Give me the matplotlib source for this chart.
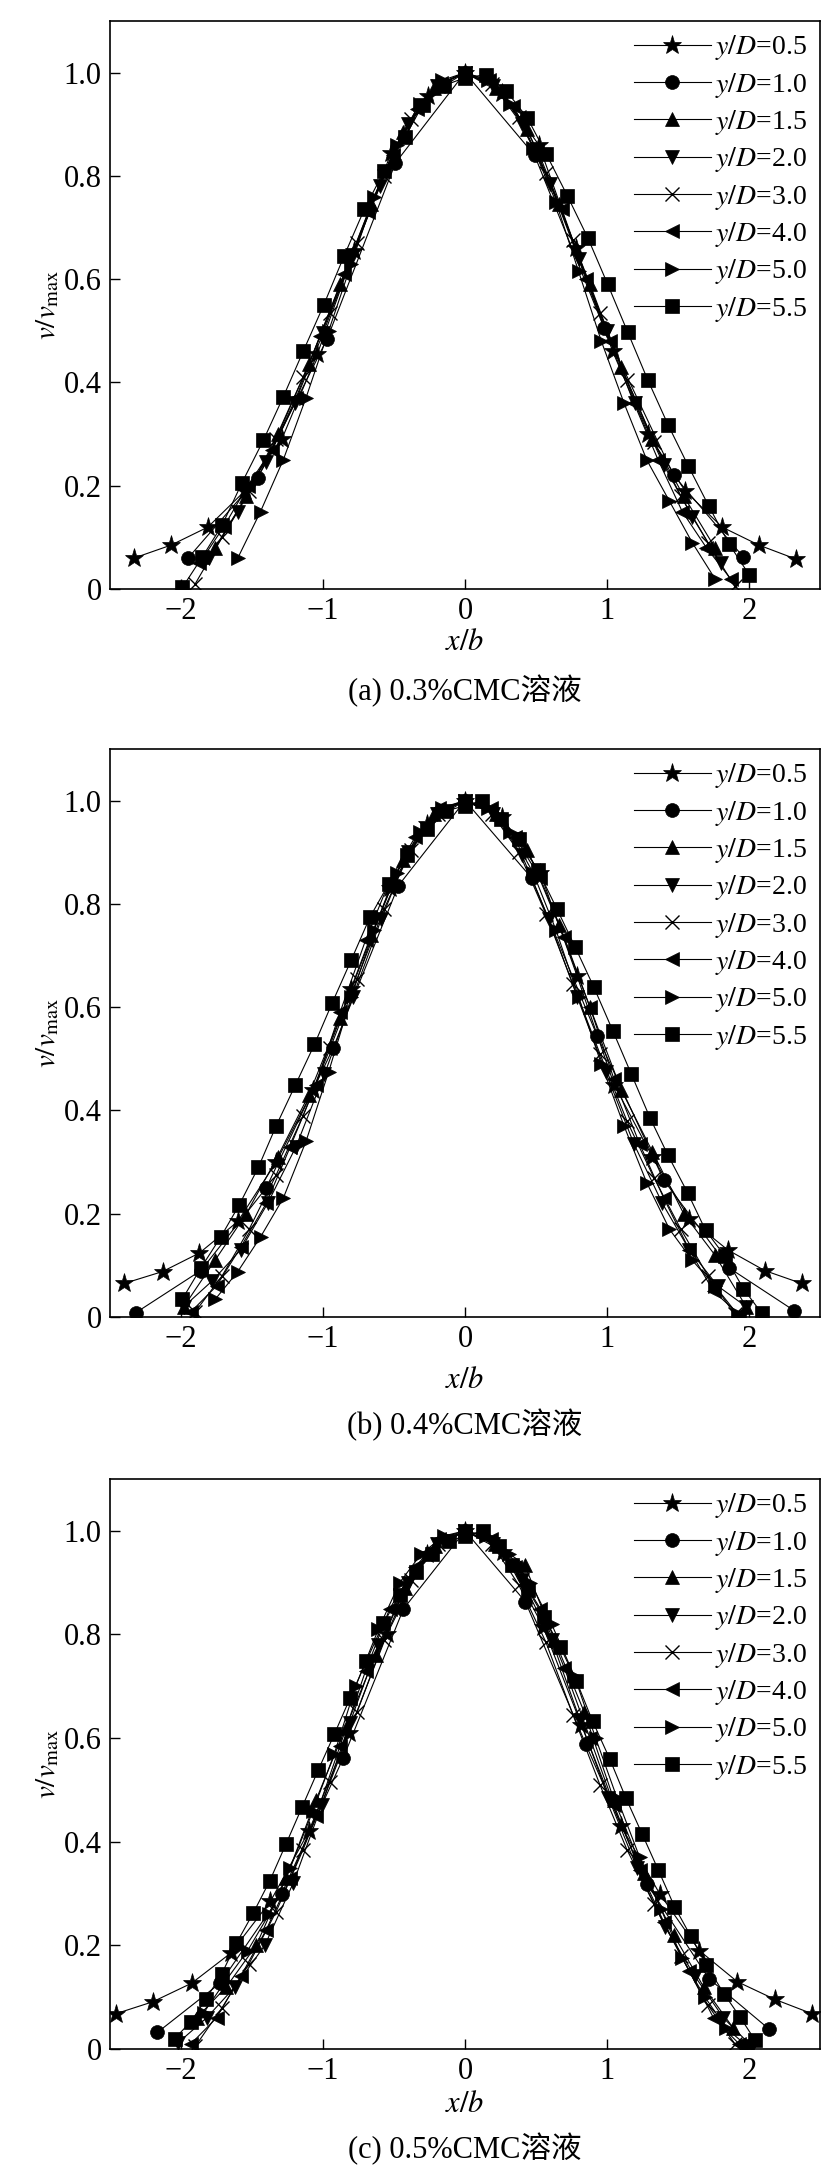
import matplotlib
matplotlib.use('Agg')
import matplotlib.pyplot as plt
from matplotlib.ticker import FixedLocator, FixedFormatter

plt.rcParams['font.family'] = ['Liberation Serif', 'Noto Sans CJK SC']
plt.rcParams['mathtext.fontset'] = 'stix'

labels = ['0.5', '1.0', '1.5', '2.0', '3.0', '4.0', '5.0', '5.5']
markers = ['*', 'o', '^', 'v', 'x', '<', '>', 's']
captions = ['(a) 0.3%CMC溶液', '(b) 0.4%CMC溶液', '(c) 0.5%CMC溶液']
y_ticks = [0, 0.2, 0.4, 0.6, 0.8, 1.0]
y_ticklabels = ['0', '0.2', '0.4', '0.6', '0.8', '1.0']

# (a) 0.3% CMC
a_x05 = [-2.33, -2.07, -1.81, -1.55, -1.29, -1.04, -0.78, -0.52, -0.26, 0, 0.26, 0.52, 0.78, 1.04, 1.29, 1.55, 1.81, 2.07, 2.33]
a_y05 = [0.06, 0.085, 0.12, 0.19, 0.29, 0.455, 0.655, 0.845, 0.955, 1.0, 0.96, 0.86, 0.66, 0.46, 0.3, 0.19, 0.12, 0.085, 0.058]
a_x10 = [-1.95, -1.46, -0.97, -0.49, 0, 0.49, 0.98, 1.47, 1.96]
a_y10 = [0.06, 0.215, 0.485, 0.825, 1.0, 0.84, 0.505, 0.22, 0.062]
a_x15 = [-1.76, -1.54, -1.32, -1.1, -0.88, -0.66, -0.44, -0.22, 0, 0.22, 0.44, 0.66, 0.88, 1.1, 1.32, 1.54, 1.76]
a_y15 = [0.08, 0.18, 0.3, 0.435, 0.59, 0.745, 0.885, 0.97, 1.0, 0.97, 0.89, 0.745, 0.59, 0.43, 0.29, 0.18, 0.08]
a_x20 = [-1.8, -1.6, -1.4, -1.2, -1.0, -0.8, -0.6, -0.4, -0.2, 0, 0.2, 0.4, 0.6, 0.8, 1.0, 1.2, 1.4, 1.6, 1.8]
a_y20 = [0.06, 0.15, 0.245, 0.36, 0.495, 0.64, 0.78, 0.9, 0.975, 1.0, 0.975, 0.9, 0.785, 0.64, 0.5, 0.36, 0.24, 0.14, 0.05]
a_x30 = [-1.9, -1.71, -1.52, -1.33, -1.14, -0.95, -0.76, -0.57, -0.38, -0.19, 0, 0.19, 0.38, 0.57, 0.76, 0.95, 1.14, 1.33, 1.52, 1.71, 1.9]
a_y30 = [0.01, 0.1, 0.19, 0.29, 0.41, 0.535, 0.67, 0.8, 0.91, 0.975, 1.0, 0.978, 0.915, 0.805, 0.675, 0.535, 0.405, 0.285, 0.18, 0.09, 0.005]
a_x40 = [-1.87, -1.7, -1.53, -1.36, -1.19, -1.02, -0.85, -0.68, -0.51, -0.34, -0.17, 0, 0.17, 0.34, 0.51, 0.68, 0.85, 1.02, 1.19, 1.36, 1.53, 1.7, 1.87]
a_y40 = [0.05, 0.12, 0.2, 0.27, 0.37, 0.49, 0.61, 0.73, 0.84, 0.93, 0.98, 1.0, 0.985, 0.935, 0.85, 0.735, 0.6, 0.48, 0.36, 0.25, 0.15, 0.08, 0.02]
a_x50 = [-1.6, -1.44, -1.28, -1.12, -0.96, -0.8, -0.64, -0.48, -0.32, -0.16, 0, 0.16, 0.32, 0.48, 0.64, 0.8, 0.96, 1.12, 1.28, 1.44, 1.6, 1.76]
a_y50 = [0.06, 0.15, 0.25, 0.37, 0.5, 0.63, 0.76, 0.86, 0.94, 0.985, 1.0, 0.985, 0.94, 0.855, 0.75, 0.615, 0.48, 0.36, 0.25, 0.17, 0.09, 0.02]
a_x55 = [-1.99, -1.85, -1.71, -1.57, -1.42, -1.28, -1.14, -0.995, -0.853, -0.708, -0.569, -0.424, -0.296, -0.15, 0, 0.147, 0.29, 0.44, 0.573, 0.72, 0.865, 1.005, 1.145, 1.287, 1.43, 1.571, 1.716, 1.86, 2.0]
a_y55 = [0.003, 0.062, 0.124, 0.206, 0.288, 0.372, 0.46, 0.55, 0.644, 0.736, 0.81, 0.875, 0.938, 0.975, 0.99, 0.996, 0.965, 0.912, 0.842, 0.762, 0.68, 0.59, 0.498, 0.405, 0.318, 0.239, 0.161, 0.087, 0.028]

# (b) 0.4% CMC
b_x05 = [-2.40, -2.13, -1.87, -1.6, -1.33, -1.07, -0.8, -0.53, -0.27, 0, 0.26, 0.53, 0.79, 1.05, 1.32, 1.58, 1.85, 2.11, 2.37]
b_y05 = [0.065, 0.088, 0.124, 0.185, 0.30, 0.44, 0.635, 0.83, 0.955, 1.0, 0.968, 0.86, 0.66, 0.45, 0.31, 0.19, 0.13, 0.09, 0.065]
b_x10 = [-2.32, -1.86, -1.4, -0.93, -0.47, 0, 0.47, 0.93, 1.4, 1.86, 2.32]
b_y10 = [0.008, 0.09, 0.25, 0.52, 0.835, 1.0, 0.85, 0.545, 0.265, 0.095, 0.012]
b_x15 = [-1.98, -1.76, -1.54, -1.32, -1.1, -0.88, -0.66, -0.44, -0.22, 0, 0.22, 0.44, 0.66, 0.88, 1.1, 1.32, 1.54, 1.76, 1.98]
b_y15 = [0.02, 0.11, 0.2, 0.31, 0.43, 0.58, 0.74, 0.885, 0.975, 1.0, 0.975, 0.905, 0.76, 0.6, 0.44, 0.32, 0.2, 0.12, 0.02]
b_x20 = [-1.98, -1.78, -1.58, -1.39, -1.19, -0.99, -0.79, -0.59, -0.4, -0.2, 0, 0.2, 0.4, 0.59, 0.79, 0.99, 1.19, 1.39, 1.58, 1.78, 1.98]
b_y20 = [0.02, 0.07, 0.13, 0.22, 0.33, 0.47, 0.62, 0.77, 0.9, 0.975, 1.0, 0.975, 0.895, 0.77, 0.62, 0.475, 0.335, 0.22, 0.13, 0.06, 0.02]
b_x30 = [-1.9, -1.71, -1.52, -1.33, -1.14, -0.95, -0.76, -0.57, -0.38, -0.19, 0, 0.19, 0.38, 0.57, 0.76, 0.95, 1.14, 1.33, 1.52, 1.71, 1.9]
b_y30 = [0.01, 0.08, 0.17, 0.275, 0.39, 0.52, 0.655, 0.79, 0.905, 0.975, 1.0, 0.975, 0.9, 0.78, 0.645, 0.51, 0.38, 0.27, 0.17, 0.08, 0.005]
b_x40 = [-1.93, -1.75, -1.58, -1.4, -1.23, -1.05, -0.88, -0.7, -0.53, -0.35, -0.18, 0, 0.18, 0.35, 0.53, 0.7, 0.88, 1.05, 1.23, 1.4, 1.58, 1.75, 1.93]
b_y40 = [0.01, 0.06, 0.135, 0.22, 0.33, 0.45, 0.59, 0.73, 0.845, 0.93, 0.985, 1.0, 0.985, 0.93, 0.85, 0.735, 0.6, 0.46, 0.335, 0.23, 0.13, 0.05, 0.005]
b_x50 = [-1.76, -1.6, -1.44, -1.28, -1.12, -0.96, -0.8, -0.64, -0.48, -0.32, -0.16, 0, 0.16, 0.32, 0.48, 0.64, 0.8, 0.96, 1.12, 1.28, 1.44, 1.6, 1.76, 1.92]
b_y50 = [0.034, 0.088, 0.155, 0.23, 0.34, 0.475, 0.62, 0.75, 0.86, 0.94, 0.985, 1.0, 0.985, 0.94, 0.86, 0.75, 0.62, 0.49, 0.37, 0.26, 0.17, 0.11, 0.06, 0.005]
b_x55 = [-1.99, -1.86, -1.72, -1.59, -1.455, -1.33, -1.195, -1.06, -0.934, -0.8, -0.67, -0.537, -0.405, -0.27, -0.135, 0, 0.117, 0.25, 0.38, 0.514, 0.646, 0.775, 0.907, 1.043, 1.172, 1.304, 1.43, 1.569, 1.694, 1.83, 1.96, 2.09]
b_y55 = [0.035, 0.095, 0.155, 0.217, 0.29, 0.37, 0.449, 0.528, 0.609, 0.692, 0.774, 0.839, 0.895, 0.945, 0.98, 0.99, 1.0, 0.965, 0.925, 0.865, 0.791, 0.717, 0.639, 0.553, 0.47, 0.385, 0.313, 0.24, 0.168, 0.118, 0.055, 0.007]

# (c) 0.5% CMC
c_x05 = [-2.46, -2.2, -1.925, -1.65, -1.37, -1.1, -0.82, -0.55, -0.27, 0, 0.27, 0.55, 0.82, 1.1, 1.37, 1.65, 1.917, 2.18, 2.445]
c_y05 = [0.068, 0.091, 0.127, 0.185, 0.285, 0.42, 0.61, 0.8, 0.955, 1.0, 0.96, 0.815, 0.625, 0.43, 0.3, 0.19, 0.13, 0.096, 0.068]
c_x10 = [-2.166, -1.725, -1.29, -0.857, -0.434, 0, 0.426, 0.849, 1.283, 1.717, 2.143]
c_y10 = [0.032, 0.127, 0.30, 0.562, 0.849, 1.0, 0.863, 0.589, 0.318, 0.136, 0.038]
c_x15 = [-1.89, -1.68, -1.47, -1.26, -1.05, -0.84, -0.63, -0.42, -0.21, 0, 0.21, 0.42, 0.63, 0.84, 1.05, 1.26, 1.47, 1.68, 1.89]
c_y15 = [0.06, 0.12, 0.2, 0.33, 0.48, 0.62, 0.76, 0.89, 0.97, 1.0, 0.975, 0.935, 0.79, 0.65, 0.48, 0.34, 0.22, 0.12, 0.04]
c_x20 = [-2.02, -1.82, -1.62, -1.41, -1.21, -1.01, -0.81, -0.61, -0.4, -0.2, 0, 0.2, 0.4, 0.61, 0.81, 1.01, 1.21, 1.41, 1.62, 1.82, 2.02]
c_y20 = [0.012, 0.06, 0.12, 0.2, 0.32, 0.47, 0.63, 0.78, 0.9, 0.975, 1.0, 0.975, 0.905, 0.79, 0.635, 0.485, 0.35, 0.235, 0.14, 0.06, 0.005]
c_x30 = [-1.9, -1.71, -1.52, -1.33, -1.14, -0.95, -0.76, -0.57, -0.38, -0.19, 0, 0.19, 0.38, 0.57, 0.76, 0.95, 1.14, 1.33, 1.52, 1.71, 1.9]
c_y30 = [0.005, 0.08, 0.165, 0.265, 0.385, 0.515, 0.65, 0.79, 0.905, 0.975, 1.0, 0.975, 0.895, 0.785, 0.645, 0.51, 0.385, 0.28, 0.18, 0.085, 0.01]
c_x40 = [-1.93, -1.75, -1.58, -1.4, -1.23, -1.05, -0.88, -0.7, -0.53, -0.35, -0.18, 0, 0.18, 0.35, 0.53, 0.7, 0.88, 1.05, 1.23, 1.4, 1.58, 1.75, 1.93]
c_y40 = [0.01, 0.06, 0.14, 0.23, 0.33, 0.45, 0.585, 0.73, 0.85, 0.93, 0.985, 1.0, 0.985, 0.93, 0.85, 0.735, 0.6, 0.47, 0.345, 0.245, 0.15, 0.06, 0.01]
c_x50 = [-1.84, -1.69, -1.53, -1.38, -1.23, -1.07, -0.92, -0.77, -0.61, -0.46, -0.31, -0.15, 0, 0.15, 0.31, 0.46, 0.61, 0.77, 0.92, 1.07, 1.23, 1.38, 1.53, 1.69, 1.84, 1.99]
c_y50 = [0.07, 0.13, 0.19, 0.26, 0.35, 0.46, 0.57, 0.7, 0.81, 0.9, 0.955, 0.99, 1.0, 0.99, 0.955, 0.9, 0.82, 0.72, 0.6, 0.485, 0.37, 0.27, 0.175, 0.1, 0.04, 0.005]
c_x55 = [-2.045, -1.93, -1.825, -1.713, -1.61, -1.49, -1.374, -1.26, -1.147, -1.034, -0.921, -0.808, -0.694, -0.574, -0.46, -0.345, -0.23, -0.115, 0, 0.125, 0.24, 0.33, 0.445, 0.558, 0.672, 0.785, 0.898, 1.019, 1.132, 1.249, 1.362, 1.475, 1.589, 1.70, 1.823, 1.936, 2.04]
c_y55 = [0.02, 0.053, 0.096, 0.145, 0.204, 0.263, 0.325, 0.396, 0.467, 0.538, 0.607, 0.678, 0.749, 0.822, 0.876, 0.92, 0.955, 0.98, 0.99, 1.0, 0.97, 0.935, 0.885, 0.833, 0.775, 0.71, 0.633, 0.56, 0.485, 0.414, 0.345, 0.275, 0.218, 0.162, 0.107, 0.062, 0.018]

panels = [
    [(a_x05, a_y05), (a_x10, a_y10), (a_x15, a_y15), (a_x20, a_y20),
     (a_x30, a_y30), (a_x40, a_y40), (a_x50, a_y50), (a_x55, a_y55)],
    [(b_x05, b_y05), (b_x10, b_y10), (b_x15, b_y15), (b_x20, b_y20),
     (b_x30, b_y30), (b_x40, b_y40), (b_x50, b_y50), (b_x55, b_y55)],
    [(c_x05, c_y05), (c_x10, c_y10), (c_x15, c_y15), (c_x20, c_y20),
     (c_x30, c_y30), (c_x40, c_y40), (c_x50, c_y50), (c_x55, c_y55)],
]

W, H = 839, 2174
fig = plt.figure(figsize=(W / 100, H / 100), dpi=100)
fs = 20

# pixel layout: (axes top, axes bottom, x-label centre, caption centre)
layout = [(21, 589, 642, 691), (749, 1317, 1380, 1425), (1479, 2049, 2104, 2149)]
ax_left, ax_right = 110, 820

for k, (top, bot, xl_y, cap_y) in enumerate(layout):
    ax = fig.add_axes([ax_left / W, 1 - bot / H, (ax_right - ax_left) / W, (bot - top) / H])
    for (xs, ys), lab, m in zip(panels[k], labels, markers):
        ms = 14 if m == '*' else 10
        ax.plot(xs, ys, color='black', lw=0.8, marker=m, ms=ms,
                mew=1.0 if m == 'x' else 0.5, label=r'$y/D$=' + lab)
    ax.set_xlim(-2.5, 2.5)
    ax.set_ylim(0, 1.1)
    ax.set_xticks([-2, -1, 0, 1, 2])
    ax.yaxis.set_major_locator(FixedLocator(y_ticks))
    ax.yaxis.set_major_formatter(FixedFormatter(y_ticklabels))
    ax.tick_params(direction='in', length=7, width=1.0, labelsize=fs + 2, pad=6)
    for sp in ax.spines.values():
        sp.set_linewidth(1.2)
    ax.set_ylabel(r'$v/v_{\mathrm{max}}$', fontsize=fs + 1, labelpad=2)
    ax.legend(loc='upper right', frameon=False, fontsize=fs, handlelength=2.8,
              handletextpad=0.15, labelspacing=0.3, borderaxespad=0.25,
              borderpad=0.2)
    fig.text((ax_left + ax_right) / 2 / W, 1 - xl_y / H, r'$x/b$', fontsize=fs + 2,
             ha='center', va='center')
    fig.text((ax_left + ax_right) / 2 / W, 1 - cap_y / H, captions[k], fontsize=fs + 2,
             ha='center', va='center')

fig.savefig('out.png', dpi=100)
